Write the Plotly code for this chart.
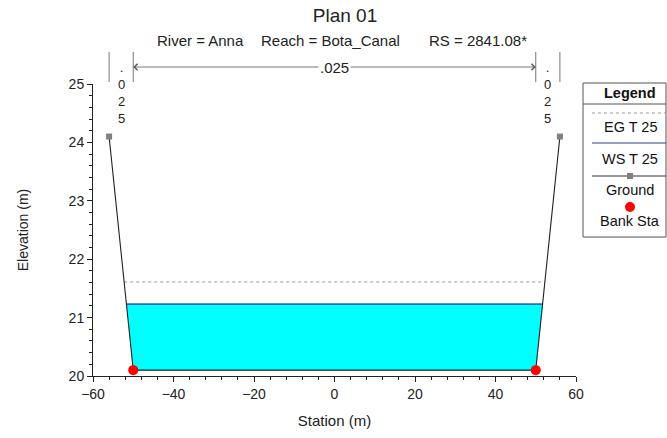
import numpy as np
import plotly.graph_objects as go

# ---------------- data ----------------
station = [-56.0, -50.0, 50.0, 56.0]
elevation = [24.1, 20.1, 20.1, 24.1]
bank_station = [-50.0, 50.0]
bank_elev = [20.1, 20.1]
ws_elev = 21.23   # WS T 25
eg_elev = 21.61   # EG T 25
n_breaks = [-56.0, -50.0, 50.0, 56.0]
n_values = [".025", ".025", ".025"]
legend_labels = ["EG T 25", "WS T 25", "Ground", "Bank Sta"]
x_ticks = [-60, -40, -20, 0, 20, 40, 60]
y_ticks = [20, 21, 22, 23, 24, 25]

# ---------------- layout geometry ----------------
W, H = 667, 438
ML, MR, MT, MB = 93, 91, 84, 62
PW, PH = W - ML - MR, H - MT - MB
FONT = "Liberation Sans, Arial, sans-serif"


def px_x(px):
    return (px - ML) / PW


def px_y(py):
    return (H - MB - py) / PH


def ground_crossing(level):
    """Stations where the ground profile meets a given water level."""
    st = np.array(station)
    el = np.array(elevation)
    imin = int(np.argmin(el))
    left = np.interp(level, el[: imin + 1][::-1], st[: imin + 1][::-1])
    right = np.interp(level, el[imin + 1 :], st[imin + 1 :])
    return float(left), float(right)


ws_l, ws_r = ground_crossing(ws_elev)
eg_l, eg_r = ground_crossing(eg_elev)

fig = go.Figure()

# water area
wx = [ws_l] + [s for s, e in zip(station, elevation) if e < ws_elev] + [ws_r]
wy = [ws_elev] + [e for e in elevation if e < ws_elev] + [ws_elev]
fig.add_trace(go.Scatter(x=wx, y=wy, fill="toself", fillcolor="#00FFFF",
                         line=dict(width=0), mode="lines", hoverinfo="skip",
                         showlegend=False))
# EG
fig.add_trace(go.Scatter(x=[eg_l, eg_r], y=[eg_elev, eg_elev], mode="lines",
                         line=dict(color="#9a9a9a", width=1, dash="dot"),
                         name=legend_labels[0], showlegend=False))
# WS
fig.add_trace(go.Scatter(x=[ws_l, ws_r], y=[ws_elev, ws_elev], mode="lines",
                         line=dict(color="#3a68a8", width=1.6),
                         name=legend_labels[1], showlegend=False))
# Ground
fig.add_trace(go.Scatter(x=station, y=elevation, mode="lines+markers",
                         line=dict(color="#202020", width=1.1),
                         marker=dict(symbol="square", size=6, color="#808080"),
                         name=legend_labels[2], showlegend=False))
# Bank stations
fig.add_trace(go.Scatter(x=bank_station, y=bank_elev, mode="markers",
                         marker=dict(symbol="circle", size=10, color="#ff0000"),
                         name=legend_labels[3], showlegend=False))

shapes = []
annotations = []

# ---------- Manning's n markers above plot ----------
for xb in n_breaks:
    shapes.append(dict(type="line", xref="x", yref="paper", x0=xb, x1=xb,
                       y0=px_y(82), y1=px_y(52),
                       line=dict(color="#777777", width=1)))

# main channel: arrow with ".025"
ymid = px_y(67)
mid = (n_breaks[1] + n_breaks[2]) / 2
annotations.append(dict(x=n_breaks[2], y=ymid, xref="x", yref="paper",
                        ax=mid, ay=0, axref="x", ayref="pixel", text="",
                        showarrow=True, arrowhead=4, arrowsize=1.6,
                        arrowwidth=0.8, arrowcolor="#555555"))
annotations.append(dict(x=n_breaks[1], y=ymid, xref="x", yref="paper",
                        ax=mid, ay=0, axref="x", ayref="pixel",
                        text=n_values[1], bgcolor="white",
                        font=dict(family=FONT, size=15, color="#222222"),
                        showarrow=True, arrowhead=4, arrowsize=1.6,
                        arrowwidth=0.8, arrowcolor="#555555"))

# overbanks: vertical stacked characters
for i in (0, 2):
    xc = (n_breaks[i] + n_breaks[i + 1]) / 2
    annotations.append(dict(x=xc, y=px_y(58), xref="x", yref="paper",
                            text="<br>".join(list(n_values[i])),
                            showarrow=False, xanchor="center", yanchor="top",
                            font=dict(family=FONT, size=13, color="#222222")))

# ---------- subtitle ----------
for txt, px in [("River = Anna", 155), ("Reach = Bota_Canal", 259),
                ("RS = 2841.08*", 427)]:
    annotations.append(dict(x=px_x(px), y=px_y(40), xref="paper", yref="paper",
                            text=txt, showarrow=False, xanchor="left",
                            yanchor="middle",
                            font=dict(family=FONT, size=15, color="#222222")))

# ---------- custom legend ----------
lx0, lx1 = px_x(583), px_x(666)
shapes.append(dict(type="rect", xref="paper", yref="paper", x0=lx0, x1=lx1,
                   y0=px_y(237), y1=px_y(83),
                   line=dict(color="#555555", width=1), fillcolor="white",
                   layer="above"))
shapes.append(dict(type="line", xref="paper", yref="paper", x0=lx0, x1=lx1,
                   y0=px_y(104), y1=px_y(104),
                   line=dict(color="#555555", width=1)))
annotations.append(dict(x=px_x(630), y=px_y(93), xref="paper", yref="paper",
                        text="<b>Legend</b>", showarrow=False,
                        xanchor="center", yanchor="middle",
                        font=dict(family=FONT, size=14.5, color="#111111")))
lgx0, lgx1 = px_x(592), px_x(666)
shapes.append(dict(type="line", xref="paper", yref="paper", x0=lgx0, x1=lgx1,
                   y0=px_y(113), y1=px_y(113),
                   line=dict(color="#9a9a9a", width=1, dash="dot")))
shapes.append(dict(type="line", xref="paper", yref="paper", x0=lgx0, x1=lgx1,
                   y0=px_y(143), y1=px_y(143),
                   line=dict(color="#2a3f8a", width=1)))
shapes.append(dict(type="line", xref="paper", yref="paper", x0=lgx0, x1=lgx1,
                   y0=px_y(176), y1=px_y(176),
                   line=dict(color="#303030", width=1)))
shapes.append(dict(type="rect", xref="paper", yref="paper",
                   x0=px_x(627), x1=px_x(633), y0=px_y(179), y1=px_y(173),
                   line=dict(width=0), fillcolor="#808080"))
shapes.append(dict(type="circle", xref="paper", yref="paper",
                   x0=px_x(625), x1=px_x(635), y0=px_y(212), y1=px_y(202),
                   line=dict(width=0), fillcolor="#ff0000"))
for txt, py in zip(legend_labels, [127, 159, 190, 221]):
    annotations.append(dict(x=px_x(630), y=px_y(py), xref="paper", yref="paper",
                            text=txt, showarrow=False, xanchor="center",
                            yanchor="middle",
                            font=dict(family=FONT, size=14.5, color="#111111")))

fig.update_layout(
    width=W, height=H,
    margin=dict(l=ML, r=MR, t=MT, b=MB),
    paper_bgcolor="white", plot_bgcolor="white",
    font=dict(family=FONT, size=14, color="#222222"),
    title=dict(text="Plan 01", x=345 / W, y=1 - 15 / H, xref="container",
               yref="container", xanchor="center", yanchor="middle",
               font=dict(family=FONT, size=19, color="#222222")),
    showlegend=False,
    shapes=shapes,
    annotations=annotations,
    xaxis=dict(range=[x_ticks[0], x_ticks[-1]], tickvals=x_ticks,
               ticks="outside", ticklen=5, tickcolor="#222222",
               showline=True, linecolor="#222222", linewidth=1,
               showgrid=False, zeroline=False,
               minor=dict(dtick=4, ticks="outside", ticklen=3,
                          tickcolor="#222222", showgrid=False),
               title=dict(text="Station (m)", standoff=14,
                          font=dict(family=FONT, size=15))),
    yaxis=dict(range=[y_ticks[0], y_ticks[-1]], tickvals=y_ticks,
               ticks="outside", ticklen=5, tickcolor="#222222",
               showline=True, linecolor="#222222", linewidth=1,
               showgrid=False, zeroline=False,
               minor=dict(dtick=0.2, ticks="outside", ticklen=3,
                          tickcolor="#222222", showgrid=False),
               title=dict(text="Elevation (m)", standoff=36,
                          font=dict(family=FONT, size=14))),
)

fig.write_html("out.html",
               config={"displayModeBar": False},
               post_script="document.body.style.margin='0px';"
                           "document.body.style.overflow='hidden';")
